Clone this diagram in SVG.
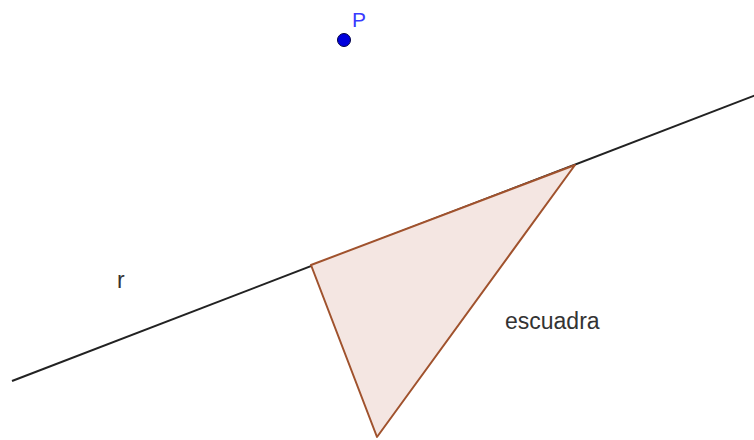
<svg xmlns="http://www.w3.org/2000/svg" width="754" height="440" viewBox="0 0 754 440">
<style>
.lbl{font-family:"Liberation Sans",Arial,sans-serif;font-size:23px;fill:#333}
</style>
<rect width="754" height="440" fill="#fff"/>
<g id="connectors">
<line id="r" x1="12" y1="381" x2="756" y2="95" stroke="#222" stroke-width="2"/>
</g>
<g id="escuadra">
<polygon points="311,265 575,165 377,437" fill="#f4e6e2" stroke="#a0522d" stroke-width="2" stroke-linejoin="round"/>
<text class="lbl" x="505" y="329">escuadra</text>
</g>
<g id="point-P">
<circle cx="344" cy="40" r="6.5" fill="#0000dd" stroke="#000044" stroke-width="1"/>
<text x="352" y="27" font-family="Liberation Sans,Arial,sans-serif" font-size="21" fill="#3a3aff">P</text>
</g>
<g id="label-r">
<text class="lbl" x="117" y="288">r</text>
</g>
</svg>
